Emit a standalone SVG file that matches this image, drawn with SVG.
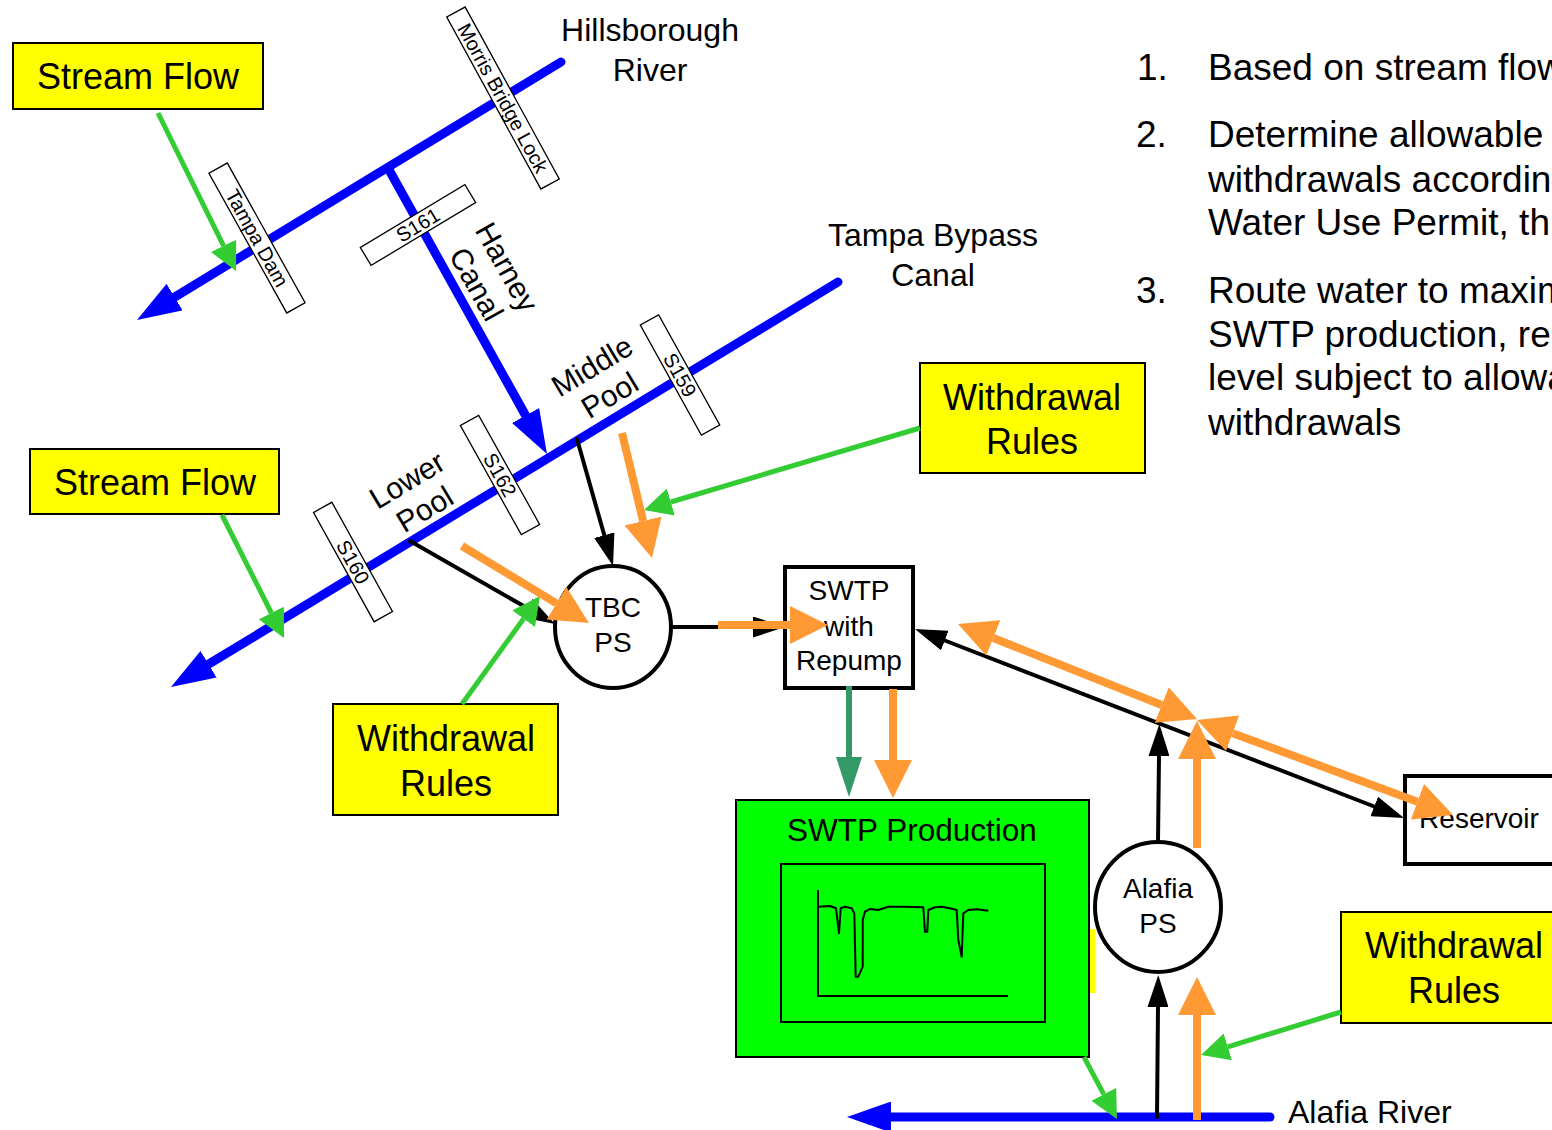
<svg xmlns="http://www.w3.org/2000/svg" width="1552" height="1130" viewBox="0 0 1552 1130">
<style>
text{font-family:"Liberation Sans",Arial,sans-serif;fill:#000}
.ybox{fill:#FFFF00;stroke:#000;stroke-width:2}
.sbox{fill:#fff;stroke:#000;stroke-width:1.3}
.st{font-size:20px;text-anchor:middle}
.lbl{font-size:32px;text-anchor:middle}
.pool{font-size:30px;text-anchor:middle}
.big{font-size:36px;text-anchor:middle}
.nd{font-size:28px;text-anchor:middle}
.lst{font-size:37px}
.blue{fill:none;stroke:#0000FF;stroke-width:9;stroke-linecap:round}
.grn{fill:none;stroke:#33CC33;stroke-width:5}
.blk{fill:none;stroke:#000;stroke-width:4;stroke-linecap:round}
.org{fill:none;stroke:#FF9933;stroke-width:8}
.dg{fill:none;stroke:#339966;stroke-width:6}
</style>
<defs>
<marker id="mBlue" markerUnits="userSpaceOnUse" viewBox="0 0 44 31" refX="0" refY="15.5" markerWidth="44" markerHeight="31" orient="auto"><path d="M0,0 L44,15.5 L0,31 z" fill="#0000FF"/></marker>
<marker id="mGrn" markerUnits="userSpaceOnUse" viewBox="0 0 28 28" refX="0" refY="14" markerWidth="28" markerHeight="28" orient="auto"><path d="M0,0 L28,14 L0,28 z" fill="#33CC33"/></marker>
<marker id="mBlk" markerUnits="userSpaceOnUse" viewBox="0 0 32 21" refX="0" refY="10.5" markerWidth="32" markerHeight="21" orient="auto-start-reverse"><path d="M0,0 L32,10.5 L0,21 z" fill="#000"/></marker>
<marker id="mOrg" markerUnits="userSpaceOnUse" viewBox="0 0 38 38" refX="0" refY="19" markerWidth="38" markerHeight="38" orient="auto-start-reverse"><path d="M0,0 L38,19 L0,38 z" fill="#FF9933"/></marker>
<marker id="mDg" markerUnits="userSpaceOnUse" viewBox="0 0 40 26" refX="0" refY="13" markerWidth="40" markerHeight="26" orient="auto"><path d="M0,0 L40,13 L0,26 z" fill="#339966"/></marker>
</defs>
<rect width="1552" height="1130" fill="#fff"/>

<rect x="1080" y="929" width="15" height="64" fill="#FFFF00"/>

<g id="rivers">
<path class="blue" d="M561,62 L174.6,297.1" marker-end="url(#mBlue)"/>
<path class="blue" d="M388,168 L525.6,415.5" marker-end="url(#mBlue)"/>
<path class="blue" d="M838,282 L208.6,664.2" marker-end="url(#mBlue)"/>
<path class="blue" d="M1270,1117 L891,1117" marker-end="url(#mBlue)"/>
</g>

<g id="structures">
<g id="morris" transform="translate(503,98) rotate(61.3)"><rect class="sbox" x="-98" y="-10.5" width="196" height="21"/><text class="st" y="7">Morris Bridge Lock</text></g>
<g id="tampadam" transform="translate(257,238) rotate(60.9)"><rect class="sbox" x="-80" y="-10.5" width="160" height="21"/><text class="st" y="7">Tampa Dam</text></g>
<g id="s161" transform="translate(418,225) rotate(-31)"><rect class="sbox" x="-61" y="-10.5" width="122" height="21"/><text class="st" y="7">S161</text></g>
<g id="s159" transform="translate(680,375) rotate(61)"><rect class="sbox" x="-63" y="-10.5" width="126" height="21"/><text class="st" y="7">S159</text></g>
<g id="s162" transform="translate(500,475) rotate(60.8)"><rect class="sbox" x="-62.5" y="-10.5" width="125" height="21"/><text class="st" y="7">S162</text></g>
<g id="s160" transform="translate(353,562) rotate(61)"><rect class="sbox" x="-62.5" y="-10.5" width="125" height="21"/><text class="st" y="7">S160</text></g>
</g>

<g id="labels">
<text class="lbl"><tspan x="650" y="41">Hillsborough</tspan><tspan x="650" y="81">River</tspan></text>
<text class="lbl"><tspan x="933" y="246">Tampa Bypass</tspan><tspan x="933" y="286">Canal</tspan></text>
<text class="pool" transform="translate(507,267) rotate(60.8)"><tspan x="0" y="10.5">Harney</tspan><tspan x="0" y="45.5">Canal</tspan></text>
<text class="pool" transform="translate(592,366) rotate(-31)"><tspan x="0" y="10.5">Middle</tspan><tspan x="0" y="44.5">Pool</tspan></text>
<text class="pool" transform="translate(407,480) rotate(-31)"><tspan x="0" y="10.5">Lower</tspan><tspan x="0" y="44.5">Pool</tspan></text>
<text style="font-size:32px" x="1288" y="1123">Alafia River</text>
</g>

<g id="list">
<text class="lst" x="1137" y="80">1.</text><text class="lst" x="1208" y="80">Based on stream flow</text>
<text class="lst" x="1136" y="147">2.</text><text class="lst" x="1208" y="147">Determine allowable</text>
<text class="lst" x="1208" y="192">withdrawals accordin</text>
<text class="lst" x="1208" y="235">Water Use Permit, th</text>
<text class="lst" x="1136" y="303">3.</text><text class="lst" x="1208" y="303">Route water to maxim</text>
<text class="lst" x="1208" y="347">SWTP production, re</text>
<text class="lst" x="1208" y="390">level subject to allowa</text>
<text class="lst" x="1208" y="435">withdrawals</text>
</g>

<g id="streamflow1"><rect class="ybox" x="13" y="43" width="250" height="66"/><text class="big" x="138" y="89">Stream Flow</text></g>
<g id="streamflow2"><rect class="ybox" x="30" y="449" width="249" height="65"/><text class="big" x="155" y="495">Stream Flow</text></g>
<g id="wr-top"><rect class="ybox" x="920" y="363" width="225" height="110"/><text class="big"><tspan x="1032" y="410">Withdrawal</tspan><tspan x="1032" y="454">Rules</tspan></text></g>
<g id="wr-left"><rect class="ybox" x="333" y="704" width="225" height="111"/><text class="big"><tspan x="446" y="751">Withdrawal</tspan><tspan x="446" y="796">Rules</tspan></text></g>
<g id="wr-right"><rect class="ybox" x="1341" y="912" width="230" height="111"/><text class="big"><tspan x="1454" y="958">Withdrawal</tspan><tspan x="1454" y="1003">Rules</tspan></text></g>

<g id="tbcps"><ellipse cx="613" cy="627" rx="58" ry="61" fill="#fff" stroke="#000" stroke-width="4"/><text class="nd"><tspan x="613" y="617">TBC</tspan><tspan x="613" y="652">PS</tspan></text></g>
<g id="swtp"><rect x="785" y="567" width="128" height="121" fill="#fff" stroke="#000" stroke-width="4"/><text class="nd"><tspan x="849" y="600">SWTP</tspan><tspan x="849" y="636">with</tspan><tspan x="849" y="670">Repump</tspan></text></g>
<g id="production">
<rect x="736" y="800" width="353" height="257" fill="#00FF00" stroke="#000" stroke-width="2"/>
<text style="font-size:31.5px;text-anchor:middle" x="912" y="841">SWTP Production</text>
<rect x="781" y="864" width="264" height="158" fill="none" stroke="#000" stroke-width="2"/>
<path d="M818,890 V996 H1008" fill="none" stroke="#000" stroke-width="2"/>
<path d="M818.3,906.7 L830,906 836,908.3 839,933.3 840.7,908.3 845,906.7 851.7,908.3 854.3,913.3 855.7,976.7 858.3,976.7 862.7,966.7 862.7,920 865,911.7 870,909 878.3,910 888.3,906.7 903.3,906.7 923.3,907.3 925,931.7 927.3,931.7 928.3,910 935,907.3 941.7,906.7 950,908.3 956.7,910 958.3,940 961.7,956.7 963.3,913.3 968.3,910 976.7,909.3 988.3,910.7" fill="none" stroke="#000" stroke-width="2" stroke-linejoin="round"/>
</g>
<g id="alafiaps"><ellipse cx="1158" cy="907" rx="63" ry="65" fill="#fff" stroke="#000" stroke-width="4"/><text class="nd"><tspan x="1158" y="898">Alafia</tspan><tspan x="1158" y="933">PS</tspan></text></g>
<g id="reservoir"><rect x="1405" y="776" width="160" height="88" fill="#fff" stroke="#000" stroke-width="4"/><text class="nd" x="1479" y="828">Reservoir</text></g>

<g id="connectors">
<path class="blk" d="M577,439 L604.3,535.2" marker-end="url(#mBlk)"/>
<path class="blk" d="M410,541 L527.2,608.1" marker-end="url(#mBlk)"/>
<path class="blk" d="M672,627 L753,627" marker-end="url(#mBlk)"/>
<path class="blk" d="M944.8,640.5 L1374.2,806.5" marker-start="url(#mBlk)" marker-end="url(#mBlk)"/>
<path class="blk" d="M1158,842 L1159,756" marker-end="url(#mBlk)"/>
<path class="blk" d="M1157,1117 L1158,1007" marker-end="url(#mBlk)"/>

<path class="grn" d="M158,113 L223.6,245.9" marker-end="url(#mGrn)"/>
<path class="grn" d="M222,515 L271.4,613" marker-end="url(#mGrn)"/>
<path class="grn" d="M462,704 L523.6,618.7" marker-end="url(#mGrn)"/>
<path class="grn" d="M920,428 L670.8,502" marker-end="url(#mGrn)"/>
<path class="grn" d="M1341,1012 L1227.8,1046.8" marker-end="url(#mGrn)"/>
<path class="grn" d="M1084,1057 L1103.8,1094.3" marker-end="url(#mGrn)"/>

<path class="dg" d="M849,686 L849,757" marker-end="url(#mDg)"/>

<path class="org" d="M622,433 L643.1,521" marker-end="url(#mOrg)"/>
<path class="org" d="M462,546 L556.5,603.3" marker-end="url(#mOrg)"/>
<path class="org" d="M718,625 L790,625" marker-end="url(#mOrg)"/>
<path class="org" d="M893,689 L893,760" marker-end="url(#mOrg)"/>
<path class="org" d="M993.3,638 L1161.7,705" marker-start="url(#mOrg)" marker-end="url(#mOrg)"/>
<path class="org" d="M1232.6,733.2 L1417.4,801.8" marker-start="url(#mOrg)" marker-end="url(#mOrg)"/>
<path class="org" d="M1197,848 L1197,759" marker-end="url(#mOrg)"/>
<path class="org" d="M1197,1120 L1197,1015" marker-end="url(#mOrg)"/>
</g>
</svg>
